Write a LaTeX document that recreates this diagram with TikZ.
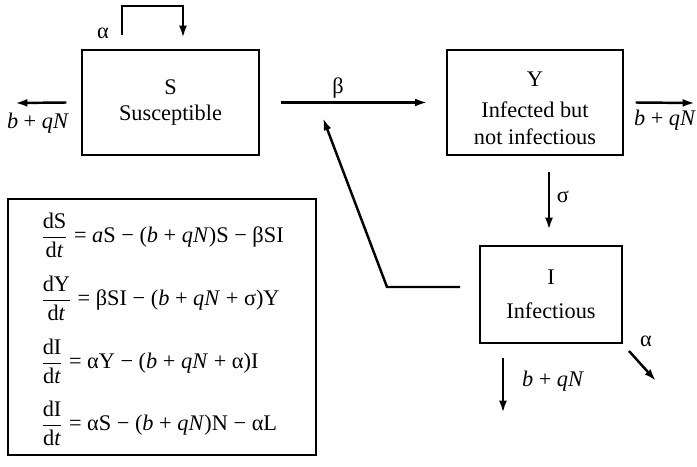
\documentclass[tikz,border=0pt]{standalone}
\usepackage{amsmath}
\usepackage{fontspec}
\setmainfont{Liberation Serif}
\usetikzlibrary{arrows.meta}

\def\gap{0.35cm}

\begin{document}
\begin{tikzpicture}[line width=0.75pt, font=\fontsize{12.7}{15.5}\selectfont]
    \tikzstyle{box}=[draw, rectangle, align=center, inner sep=0pt]
    \tikzstyle{flow}=[line width=1.4pt, -{Latex[length=7pt,width=4.5pt]}]
    \tikzstyle{rate}=[inner sep=1pt]
    \tikzstyle{eqn}=[anchor=west, inner sep=0pt]

    \useasboundingbox (0,0) rectangle (13.94,-9.32);

    % Draw the three compartments
    \node[box, minimum width=3.54cm, minimum height=2.1cm] (S) at (3.41,-2.05)
        {S\\[-1pt]Susceptible};
    \node[box, minimum width=3.52cm, minimum height=2.1cm] (Y) at (10.70,-2.05)
        {\raisebox{-0.16cm}[\height][\depth]{\begin{tabular}{@{}c@{}}Y\\[2pt]Infected but\\not infectious\end{tabular}}};
    \node[box, minimum width=2.84cm, minimum height=1.94cm] (I) at (11.02,-5.89) {I\\[4pt]Infectious};

    % Box with the equations
    \node[box, minimum width=6.16cm, minimum height=5.12cm] (E) at (3.24,-6.54) {};
    \node[eqn] (eq1) at (0.80,-4.70) {$\dfrac{\text{dS}}{\text{d\textit{t}}}$ = \textit{a}S − (\textit{b} + \textit{qN})S − βSI};
    \node[eqn] (eq2) at (0.80,-5.96) {$\dfrac{\text{dY}}{\text{d\textit{t}}}$ = βSI − (\textit{b} + \textit{qN} + σ)Y};
    \node[eqn] (eq3) at (0.80,-7.22) {$\dfrac{\text{dI}}{\text{d\textit{t}}}$ = αY − (\textit{b} + \textit{qN} + α)I};
    \node[eqn] (eq4) at (0.80,-8.46) {$\dfrac{\text{dI}}{\text{d\textit{t}}}$ = αS − (\textit{b} + \textit{qN})N − αL};

    % Birth loop into S
    \coordinate (a0) at (2.44,-0.70);
    \coordinate (a1) at (3.66,-0.76);
    \draw[flow] (a0) |- (3.05,-0.12) -| (a1);
    \node[rate] (la) at (2.06,-0.66) {α};

    % Deaths out of S and Y
    \coordinate (s0) at ([xshift=-\gap+0.05cm]S.west);
    \coordinate (s1) at (0.30,-2.06);
    \draw[flow] (s0) -- (s1);
    \node[rate] (ls) at (0.76,-2.46) {\textit{b} + \textit{qN}};

    \coordinate (y0) at ([xshift=0.24cm]Y.east);
    \coordinate (y1) at (13.90,-2.06);
    \draw[flow] (y0) -- (y1);
    \node[rate] (ly) at (13.30,-2.40) {\textit{b} + \textit{qN}};

    % Infection S -> Y
    \draw[flow] ([xshift=0.42cm]S.east) -- ([xshift=-0.38cm]Y.west);
    \node[rate] (lb) at (6.76,-1.76) {β};

    % Y -> I
    \draw[flow] (10.98,-3.44) -- (10.98,-4.60);
    \node[rate] (lsig) at (11.26,-3.94) {σ};

    % Feedback from I to the infection rate
    \coordinate (f0) at (9.20,-5.74);
    \coordinate (f1) at (7.74,-5.74);
    \coordinate (f2) at (6.46,-2.36);
    \draw[flow] (f0) -- (f1) -- (f2);

    % Losses out of I
    \coordinate (i0) at (10.06,-7.16);
    \coordinate (i1) at (10.06,-8.26);
    \draw[flow] (i0) -- (i1);
    \node[rate] (li) at (11.06,-7.62) {\textit{b} + \textit{qN}};

    \coordinate (d0) at (12.58,-7.02);
    \coordinate (d1) at (13.12,-7.62);
    \draw[flow] (d0) -- (d1);
    \node[rate] (ld) at (12.92,-6.82) {α};
\end{tikzpicture}
\end{document}
